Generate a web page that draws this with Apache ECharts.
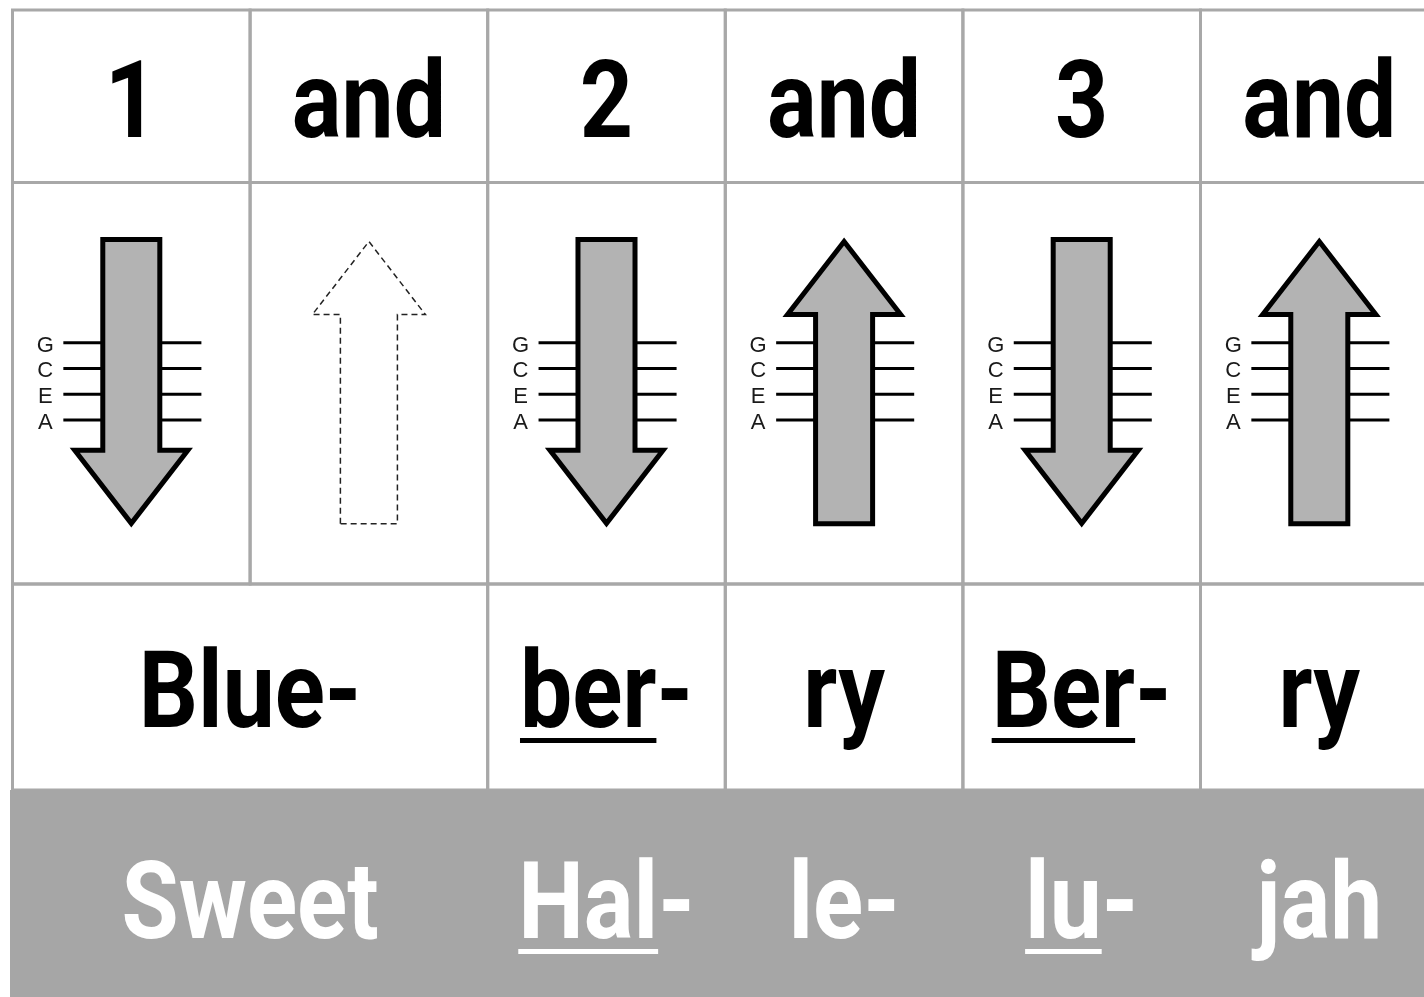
<!DOCTYPE html>
<html><head><meta charset="utf-8">
<script src="https://cdn.jsdelivr.net/npm/echarts@6/dist/echarts.min.js"></script>
<style>html,body{margin:0;padding:0;background:#fff;overflow:hidden}#c{width:1440px;height:997px}</style>
</head><body><div id="c"></div>
<script>
// ---- data ----
const beats = ['1', 'and', '2', 'and', '3', 'and'];
const strums = ['down', 'ghost-up', 'down', 'up', 'down', 'up'];
const stringNames = ['G', 'C', 'E', 'A'];
const lyricsTop = ['Blue-', 'ber-', 'ry', 'Ber-', 'ry'];
const lyricsTopSpan = [2, 1, 1, 1, 1];
const lyricsTopStress = ['', 'ber', '', 'Ber', ''];
const lyricsBottom = ['Sweet', 'Hal-', 'le-', 'lu-', 'jah'];
const lyricsBottomSpan = [2, 1, 1, 1, 1];
const lyricsBottomStress = ['', 'Hal', '', 'lu', ''];

// ---- style ----
const FONT_FAMILY = 'Roboto';
const FONT_SIZE = 108;
const SCALE_X = 0.86;
const BIG_FONT = 'bold ' + FONT_SIZE + 'px ' + FONT_FAMILY;
const GRID_COLOR = '#a8a8a8';
const BAND_COLOR = '#a6a6a6';
const ARROW_FILL = '#b3b3b3';

const measureCtx = document.createElement('canvas').getContext('2d');
function textWidth(t) { measureCtx.font = BIG_FONT; return measureCtx.measureText(t).width; }

const rowTops = [10, 182.5, 584, 790];
const rowHeights = [172.5, 401.5, 206, 207];
const nCols = beats.length;

function spansToCells(spans) {
  let s = 0;
  return spans.map(sp => { const c = [s, s + sp]; s += sp; return c; });
}
const topCells = spansToCells(lyricsTopSpan);
const bottomCells = spansToCells(lyricsBottomSpan);
const beatCells = spansToCells(beats.map(() => 1));

const chart = echarts.init(document.getElementById('c'), null, { renderer: 'canvas' });

function cellBox(api, x0, x1) {
  const p0 = api.coord([x0, 0]);
  const p1 = api.coord([x1, 1]);
  return { x: p0[0], y: p0[1], w: p1[0] - p0[0], h: p1[1] - p0[1] };
}

function borderItem(params, api) {
  const b = cellBox(api, api.value(0), api.value(1));
  return { type: 'rect', shape: { x: b.x, y: b.y, width: b.w, height: b.h },
    style: { fill: 'none', stroke: GRID_COLOR, lineWidth: 3 } };
}

function lyricRenderer(texts, stresses, color, yFrac) {
  return function (params, api) {
    const b = cellBox(api, api.value(0), api.value(1));
    const text = texts[params.dataIndex];
    const stress = stresses ? stresses[params.dataIndex] : '';
    const cx = b.x + b.w / 2;
    const ty = b.y + b.h * yFrac;
    const children = [{ type: 'text', x: cx, y: ty, scaleX: SCALE_X,
      style: { text: text, font: BIG_FONT, fill: color, align: 'center', verticalAlign: 'middle' } }];
    if (stress) {
      const W = textWidth(text) * SCALE_X;
      const w = textWidth(stress) * SCALE_X;
      children.push({ type: 'rect', shape: { x: cx - W / 2, y: ty + 0.352 * FONT_SIZE, width: w, height: 5 },
        style: { fill: color } });
    }
    return { type: 'group', children: children };
  };
}

function arrowItem(params, api) {
  const col = api.value(0);
  const kind = strums[params.dataIndex];
  const b = cellBox(api, col, col + 1);
  const cx = b.x + b.w / 2;
  const hs = 0.12 * b.w, hh = 0.238 * b.w;
  const Y = f => b.y + f * b.h;
  const children = [];
  let pts;
  if (kind === 'down') {
    const yT = Y(0.142), yB = Y(0.667), yP = Y(0.849);
    pts = [[cx - hs, yT], [cx + hs, yT], [cx + hs, yB], [cx + hh, yB], [cx, yP], [cx - hh, yB], [cx - hs, yB]];
  } else {
    const yP = Y(0.147), yB = Y(0.329), yE = Y(0.85);
    pts = [[cx - hs, yE], [cx - hs, yB], [cx - hh, yB], [cx, yP], [cx + hh, yB], [cx + hs, yB], [cx + hs, yE]];
  }
  if (kind !== 'ghost-up') {
    stringNames.forEach((s, i) => {
      const ly = Y(0.399 + i * 0.0641);
      children.push({ type: 'line', shape: { x1: cx - 0.286 * b.w, y1: ly, x2: cx + 0.295 * b.w, y2: ly },
        style: { stroke: '#000', lineWidth: 3 } });
      children.push({ type: 'text', x: cx - 0.362 * b.w, y: ly + 3,
        style: { text: s, font: '22px "Liberation Sans", Arial, sans-serif', fill: '#1a1a1a', align: 'center', verticalAlign: 'middle' } });
    });
    children.push({ type: 'polygon', shape: { points: pts },
      style: { fill: ARROW_FILL, stroke: '#000', lineWidth: 5, lineJoin: 'miter', miterLimit: 10 } });
  } else {
    children.push({ type: 'polygon', shape: { points: pts },
      style: { fill: 'none', stroke: '#222', lineWidth: 1.5, lineDash: [6, 4] } });
  }
  return { type: 'group', children: children };
}

const option = {
  backgroundColor: '#fff',
  animation: false,
  grid: rowTops.map((t, i) => ({ left: 12.5, top: t, width: 237.6 * nCols, height: rowHeights[i], show: false })),
  xAxis: rowTops.map((t, i) => ({ type: 'value', gridIndex: i, min: 0, max: nCols, show: false })),
  yAxis: rowTops.map((t, i) => ({ type: 'value', gridIndex: i, min: 0, max: 1, inverse: true, show: false })),
  series: [
    { type: 'custom', xAxisIndex: 0, yAxisIndex: 0, clip: false, data: beatCells, renderItem: borderItem },
    { type: 'custom', xAxisIndex: 1, yAxisIndex: 1, clip: false, data: beatCells, renderItem: borderItem },
    { type: 'custom', xAxisIndex: 2, yAxisIndex: 2, clip: false, data: topCells, renderItem: borderItem },
    { type: 'custom', xAxisIndex: 3, yAxisIndex: 3, clip: false, data: [[0, nCols]],
      renderItem: function (params, api) {
        const b = cellBox(api, api.value(0), api.value(1));
        return { type: 'rect', shape: { x: b.x - 2.5, y: b.y, width: b.w + 5, height: b.h + 2 }, style: { fill: BAND_COLOR } };
      } },
    { type: 'custom', xAxisIndex: 0, yAxisIndex: 0, clip: false, data: beatCells, renderItem: lyricRenderer(beats, null, '#000', 0.579) },
    { type: 'custom', xAxisIndex: 1, yAxisIndex: 1, clip: false, data: beatCells, renderItem: arrowItem },
    { type: 'custom', xAxisIndex: 2, yAxisIndex: 2, clip: false, data: topCells, renderItem: lyricRenderer(lyricsTop, lyricsTopStress, '#000', 0.563) },
    { type: 'custom', xAxisIndex: 3, yAxisIndex: 3, clip: false, data: bottomCells, renderItem: lyricRenderer(lyricsBottom, lyricsBottomStress, '#fff', 0.585) }
  ]
};
chart.setOption(option);
</script>
</body></html>
